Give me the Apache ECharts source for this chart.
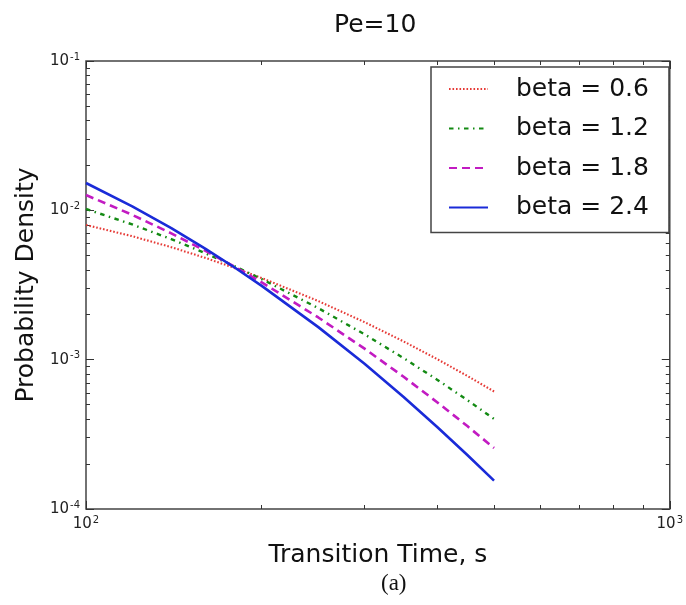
<!DOCTYPE html>
<html><head><meta charset="utf-8">
<script src="https://cdn.jsdelivr.net/npm/echarts@6/dist/echarts.min.js"></script>
<style>html,body{margin:0;padding:0;background:#fff}#c{width:686px;height:605px}</style>
</head><body><div id="c"></div>
<script>
const times = [100, 120, 140, 160, 180, 200, 250, 300, 350, 400, 450, 500];
const beta06 = [0.00798, 0.00671, 0.005666, 0.004808, 0.004101, 0.003522, 0.002469, 0.001784, 0.001325, 0.001006, 0.000778, 0.000612];
const beta12 = [0.01021, 0.008045, 0.006411, 0.005166, 0.004209, 0.003465, 0.002213, 0.001478, 0.001024, 0.000732, 0.000536, 0.000401];
const beta18 = [0.01266, 0.00933, 0.007014, 0.005365, 0.004172, 0.003292, 0.001917, 0.001185, 0.000768, 0.000517, 0.000359, 0.000256];
const beta24 = [0.01524, 0.01064, 0.007603, 0.005547, 0.004125, 0.003122, 0.001652, 0.000939, 0.000563, 0.000353, 0.000230, 0.000155];
const seriesNames = ['beta = 0.6', 'beta = 1.2', 'beta = 1.8', 'beta = 2.4'];
const xMinorTicks = [200, 300, 400, 500, 600, 700, 800, 900];
const yMinorTicks = [2e-4,3e-4,4e-4,5e-4,6e-4,7e-4,8e-4,9e-4,2e-3,3e-3,4e-3,5e-3,6e-3,7e-3,8e-3,9e-3,2e-2,3e-2,4e-2,5e-2,6e-2,7e-2,8e-2,9e-2];

const FONT = 'DejaVu Sans';
const tickColor = '#333';
const supFmt = v => '{b|10}{s|' + Math.round(Math.log10(v)) + '}';
const richLbl = {
  b: {fontSize: 15, fontFamily: FONT, color: '#222', lineHeight: 18},
  s: {fontSize: 10, fontFamily: FONT, color: '#222', lineHeight: 10, verticalAlign: 'top', padding: [0, 0, 0, 1]}
};

function mkAxis(kind, pos, minor, withLabel) {
  const isX = kind === 'x';
  const ax = {
    type: 'log', logBase: 10,
    min: isX ? 100 : 1e-4, max: isX ? 1000 : 1e-1,
    position: pos,
    axisLine: {show: false},
    splitLine: {show: false},
    minorTick: {show: false},
    axisTick: {show: true, inside: true, length: minor ? 4 : 8, lineStyle: {color: tickColor, width: 1}},
    axisLabel: {show: false}
  };
  if (minor) ax.axisTick.customValues = isX ? xMinorTicks : yMinorTicks;
  if (withLabel) {
    ax.axisLabel = {show: true, formatter: supFmt, rich: richLbl, margin: 6};
  }
  return ax;
}

const xAxes = [mkAxis('x','bottom',false,true), mkAxis('x','bottom',true,false), mkAxis('x','top',false,false), mkAxis('x','top',true,false)];
xAxes[0].name = 'Transition Time, s';
xAxes[0].nameLocation = 'middle';
xAxes[0].nameGap = 34;
xAxes[0].nameTextStyle = {fontSize: 25, fontFamily: FONT, color: '#111'};
const yAxes = [mkAxis('y','left',false,true), mkAxis('y','left',true,false), mkAxis('y','right',false,false), mkAxis('y','right',true,false)];
yAxes[0].name = 'Probability Density';
yAxes[0].nameLocation = 'middle';
yAxes[0].nameGap = 47;
yAxes[0].nameTextStyle = {fontSize: 25, fontFamily: FONT, color: '#111'};

const styles = [
  {color: '#e63a36', width: 2.1, type: [1.6, 1.9]},
  {color: '#138a13', width: 2.4, type: [4.5, 4.5, 1.5, 4.5]},
  {color: '#c21bc2', width: 2.6, type: [8, 5]},
  {color: '#1a2bd8', width: 2.6, type: 'solid'}
];
const dataSets = [beta06, beta12, beta18, beta24];

const series = dataSets.map((vals, i) => ({
  name: seriesNames[i],
  type: 'line',
  xAxisIndex: 0, yAxisIndex: 0,
  symbol: 'none',
  smooth: false,
  lineStyle: styles[i],
  itemStyle: {color: styles[i].color},
  data: times.map((t, j) => [t, vals[j]])
}));

const chart = echarts.init(document.getElementById('c'), null, {renderer: 'canvas'});
chart.setOption({
  animation: false,
  backgroundColor: '#fff',
  title: [
    {text: 'Pe=10', left: 329, top: 8, textStyle: {fontSize: 25, fontWeight: 'normal', fontFamily: FONT, color: '#111'}},
    {text: '(a)', left: 376, top: 567, textStyle: {fontSize: 23, fontWeight: 'normal', fontFamily: 'Liberation Serif', color: '#111'}}
  ],
  grid: {left: 86, top: 61, width: 584, height: 448, show: true, borderColor: '#444', borderWidth: 1.5, backgroundColor: 'transparent'},
  xAxis: xAxes,
  yAxis: yAxes,
  legend: {
    orient: 'vertical',
    left: 431, top: 67,
    padding: [7, 20, 10, 17],
    itemWidth: 39, itemHeight: 14, itemGap: 9.5,
    borderColor: '#444', borderWidth: 1.5, borderRadius: 0,
    backgroundColor: '#fff',
    itemStyle: {color: 'rgba(0,0,0,0)', borderColor: 'rgba(0,0,0,0)', borderWidth: 0, opacity: 0},
    textStyle: {fontSize: 25, fontFamily: FONT, color: '#111', lineHeight: 30, padding: [0, 0, 0, 23]},
    data: seriesNames
  },
  series: series
});
</script>
</body></html>
